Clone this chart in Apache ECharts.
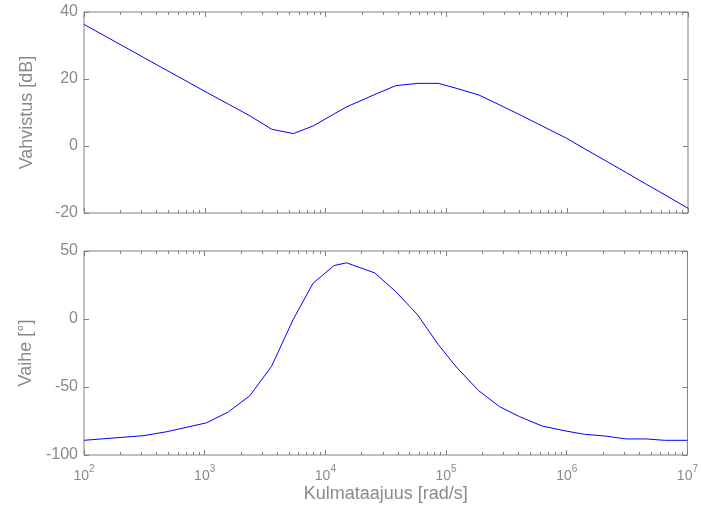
<!DOCTYPE html>
<html>
<head>
<meta charset="utf-8">
<script src="https://cdn.jsdelivr.net/npm/echarts@6/dist/echarts.min.js"></script>
<style>
  html, body { margin: 0; padding: 0; background: #fff; }
  #chart { width: 701px; height: 508px; }
</style>
</head>
<body>
<div id="chart"></div>
<script>
// Angular frequency samples [rad/s]
const freq = [100, 309, 484, 726, 1038, 1567, 2366, 3581, 5408, 7907, 11803, 14962,
  25645, 38019, 57810, 85704, 121619, 186209, 277971, 406443, 626614, 988553,
  1402813, 2055891, 3104560, 4549886, 6456542, 10000000];
// Gain [dB]
const gainDb = [36.3, 26.5, 22.6, 19.1, 16.0, 12.5, 9.0, 5.0, 3.7, 6.0, 9.6, 11.7,
  15.4, 18.0, 18.7, 18.7, 17.2, 15.2, 12.2, 9.3, 5.9, 2.3,
  -0.9, -4.3, -8.0, -11.5, -14.6, -18.6];
// Phase [deg]
const phaseDeg = [-89.2, -85.8, -82.9, -79.4, -76.3, -68.4, -56.4, -34.8, -0.4, 26.3, 39.3, 41.3,
  33.9, 20.4, 3.3, -18.5, -35.3, -52.7, -64.5, -71.8, -78.7, -82.4,
  -84.8, -86.0, -88.2, -88.2, -89.2, -89.2];

// Decade ticks and the 2..9 minor ticks in between
const decades = [1e2, 1e3, 1e4, 1e5, 1e6, 1e7];
const minorTicks = [];
for (let e = 2; e < 7; e++) for (let k = 2; k <= 9; k++) minorTicks.push(k * Math.pow(10, e));

const FONT = 'Liberation Sans';
const GREY = '#808080';
const TXT = '#8a8a8a';

function xAxisPart(grid, pos, values, len, withLabels) {
  return {
    type: 'log', logBase: 10, gridIndex: grid, position: pos,
    min: 100, max: 1e7,
    axisLine: { show: false, onZero: false },
    splitLine: { show: false },
    axisTick: { show: true, inside: true, length: len, customValues: values,
                lineStyle: { color: GREY, width: 1 } },
    axisLabel: withLabels ? {
      show: true, customValues: decades, margin: 9,
      formatter: v => '{b|10}{s|' + Math.round(Math.log10(v)) + '}',
      rich: {
        b: { fontFamily: FONT, fontSize: 14, color: TXT, lineHeight: 19, verticalAlign: 'bottom' },
        s: { fontFamily: FONT, fontSize: 10, color: TXT, lineHeight: 19, verticalAlign: 'top' }
      }
    } : { show: false },
    name: withLabels ? 'Kulmataajuus [rad/s]' : '',
    nameLocation: 'middle', nameGap: 30,
    nameTextStyle: { fontFamily: FONT, fontSize: 18, color: TXT }
  };
}

function yAxisPart(grid, pos, min, max, interval, withLabels, name) {
  return {
    type: 'value', gridIndex: grid, position: pos, min: min, max: max, interval: interval,
    axisLine: { show: false, onZero: false },
    splitLine: { show: false },
    axisTick: { show: true, inside: true, length: 5, lineStyle: { color: GREY, width: 1 } },
    axisLabel: withLabels ? { show: true, fontFamily: FONT, fontSize: 16, color: TXT, margin: 6 } : { show: false },
    name: withLabels ? name : '',
    nameLocation: 'middle', nameGap: 48,
    nameTextStyle: { fontFamily: FONT, fontSize: 18, color: TXT }
  };
}

const chart = echarts.init(document.getElementById('chart'), null, { renderer: 'canvas' });
chart.setOption({
  animation: false,
  backgroundColor: '#fff',
  grid: [
    { left: 84, right: 13, top: 12, height: 201, show: true, borderColor: GREY, borderWidth: 1, backgroundColor: '#fff', containLabel: false },
    { left: 84, right: 13, top: 251, height: 204, show: true, borderColor: GREY, borderWidth: 1, backgroundColor: '#fff', containLabel: false }
  ],
  xAxis: [
    xAxisPart(0, 'bottom', decades, 5, false),
    xAxisPart(0, 'bottom', minorTicks, 3, false),
    xAxisPart(0, 'top', decades, 5, false),
    xAxisPart(0, 'top', minorTicks, 3, false),
    xAxisPart(1, 'bottom', decades, 5, true),
    xAxisPart(1, 'bottom', minorTicks, 3, false),
    xAxisPart(1, 'top', decades, 5, false),
    xAxisPart(1, 'top', minorTicks, 3, false)
  ],
  yAxis: [
    yAxisPart(0, 'left', -20, 40, 20, true, 'Vahvistus [dB]'),
    yAxisPart(0, 'right', -20, 40, 20, false, ''),
    yAxisPart(1, 'left', -100, 50, 50, true, 'Vaihe [°]'),
    yAxisPart(1, 'right', -100, 50, 50, false, '')
  ],
  series: [
    {
      type: 'line', xAxisIndex: 0, yAxisIndex: 0,
      data: freq.map((f, i) => [f, gainDb[i]]),
      showSymbol: false, symbol: 'none',
      lineStyle: { color: '#0000ff', width: 1 }
    },
    {
      type: 'line', xAxisIndex: 4, yAxisIndex: 2,
      data: freq.map((f, i) => [f, phaseDeg[i]]),
      showSymbol: false, symbol: 'none',
      lineStyle: { color: '#0000ff', width: 1 }
    }
  ]
});
</script>
</body>
</html>
